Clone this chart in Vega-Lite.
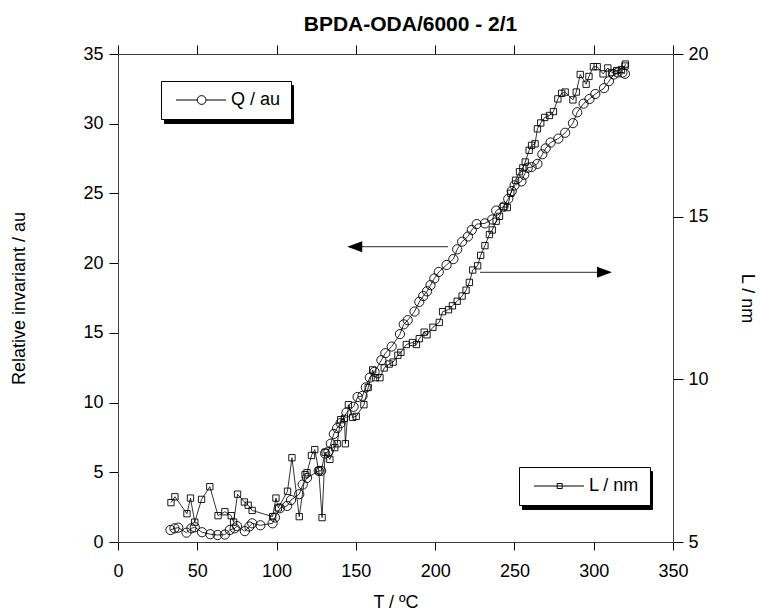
{
  "$schema": "https://vega.github.io/schema/vega-lite/v6.json",
  "width": 555,
  "height": 488,
  "autosize": "none",
  "padding": {"left": 118, "top": 54, "right": 89, "bottom": 68},
  "background": "white",
  "title": {"text": "BPDA-ODA/6000 - 2/1", "font": "Liberation Sans", "fontSize": 21, "fontWeight": "bold", "color": "black", "anchor": "middle", "frame": "group", "dx": 15, "offset": 10},
  "datasets": {
    "Q": [
      {"T": 33.1, "Q": 0.86}, {"T": 35.6, "Q": 0.98}, {"T": 38.0, "Q": 1.03}, {"T": 43.2, "Q": 0.67}, {"T": 46.3, "Q": 0.98},
      {"T": 48.4, "Q": 1.06}, {"T": 53.0, "Q": 0.70}, {"T": 58.2, "Q": 0.56}, {"T": 62.8, "Q": 0.50}, {"T": 67.4, "Q": 0.53},
      {"T": 70.5, "Q": 0.86}, {"T": 73.6, "Q": 0.98}, {"T": 75.1, "Q": 1.14}, {"T": 80.0, "Q": 0.78}, {"T": 82.8, "Q": 1.11},
      {"T": 84.6, "Q": 1.34}, {"T": 89.8, "Q": 1.20}, {"T": 97.5, "Q": 1.34}, {"T": 99.0, "Q": 1.76}, {"T": 102.1, "Q": 2.42},
      {"T": 106.7, "Q": 2.59}, {"T": 109.1, "Q": 3.01}, {"T": 114.3, "Q": 3.43}, {"T": 116.5, "Q": 4.12}, {"T": 119.2, "Q": 4.60},
      {"T": 126.6, "Q": 5.10}, {"T": 128.1, "Q": 5.10}, {"T": 130.6, "Q": 6.35}, {"T": 132.7, "Q": 6.49}, {"T": 134.2, "Q": 7.05},
      {"T": 136.1, "Q": 7.75}, {"T": 138.2, "Q": 8.17}, {"T": 140.4, "Q": 8.53}, {"T": 144.1, "Q": 9.28}, {"T": 148.6, "Q": 9.70},
      {"T": 151.1, "Q": 10.40}, {"T": 154.2, "Q": 10.48}, {"T": 156.3, "Q": 11.09}, {"T": 158.8, "Q": 11.79}, {"T": 161.8, "Q": 12.21},
      {"T": 166.1, "Q": 13.04}, {"T": 168.6, "Q": 13.54}, {"T": 172.6, "Q": 14.02}, {"T": 177.8, "Q": 14.91}, {"T": 180.2, "Q": 15.61},
      {"T": 182.7, "Q": 15.91}, {"T": 187.0, "Q": 16.53}, {"T": 190.0, "Q": 17.22}, {"T": 192.5, "Q": 17.64}, {"T": 194.9, "Q": 17.98},
      {"T": 197.1, "Q": 18.42}, {"T": 199.5, "Q": 18.90}, {"T": 202.3, "Q": 19.37}, {"T": 207.2, "Q": 19.87}, {"T": 211.5, "Q": 20.29},
      {"T": 213.9, "Q": 20.99}, {"T": 217.0, "Q": 21.54}, {"T": 220.7, "Q": 21.91}, {"T": 223.1, "Q": 22.38}, {"T": 226.2, "Q": 22.80},
      {"T": 231.4, "Q": 22.85}, {"T": 236.0, "Q": 23.13}, {"T": 238.5, "Q": 23.77}, {"T": 243.1, "Q": 24.05}, {"T": 246.1, "Q": 24.61},
      {"T": 248.3, "Q": 25.17}, {"T": 250.1, "Q": 25.58}, {"T": 254.4, "Q": 25.86}, {"T": 256.2, "Q": 26.34}, {"T": 258.4, "Q": 26.84},
      {"T": 260.8, "Q": 26.89}, {"T": 264.5, "Q": 27.12}, {"T": 267.6, "Q": 27.81}, {"T": 269.7, "Q": 28.23}, {"T": 272.8, "Q": 28.65},
      {"T": 277.7, "Q": 28.93}, {"T": 282.0, "Q": 29.35}, {"T": 286.9, "Q": 30.04}, {"T": 289.6, "Q": 30.82}, {"T": 293.6, "Q": 31.44},
      {"T": 297.3, "Q": 31.77}, {"T": 301.0, "Q": 32.13}, {"T": 306.5, "Q": 32.55}, {"T": 309.6, "Q": 33.05}, {"T": 312.6, "Q": 33.53},
      {"T": 315.1, "Q": 33.67}, {"T": 318.1, "Q": 33.67}, {"T": 319.7, "Q": 33.58}
    ],
    "L": [
      {"T": 33.4, "L": 6.21}, {"T": 35.9, "L": 6.39}, {"T": 43.5, "L": 5.87}, {"T": 45.7, "L": 6.35}, {"T": 48.4, "L": 5.61},
      {"T": 52.7, "L": 6.31}, {"T": 57.9, "L": 6.70}, {"T": 63.1, "L": 5.81}, {"T": 67.4, "L": 5.93}, {"T": 71.4, "L": 5.81},
      {"T": 72.9, "L": 5.61}, {"T": 75.4, "L": 6.47}, {"T": 79.7, "L": 6.23}, {"T": 82.1, "L": 6.13}, {"T": 84.6, "L": 5.97},
      {"T": 97.5, "L": 5.78}, {"T": 99.6, "L": 6.35}, {"T": 101.1, "L": 6.05}, {"T": 106.9, "L": 6.56}, {"T": 109.7, "L": 7.59},
      {"T": 114.3, "L": 5.78}, {"T": 118.0, "L": 7.07}, {"T": 119.2, "L": 7.13}, {"T": 122.0, "L": 7.66}, {"T": 124.1, "L": 7.84},
      {"T": 126.6, "L": 7.19}, {"T": 128.7, "L": 5.75}, {"T": 130.6, "L": 7.76}, {"T": 133.6, "L": 7.54}, {"T": 136.7, "L": 7.90},
      {"T": 138.2, "L": 8.02}, {"T": 140.4, "L": 8.76}, {"T": 142.8, "L": 8.80}, {"T": 143.4, "L": 8.02}, {"T": 145.3, "L": 9.22},
      {"T": 148.0, "L": 8.83}, {"T": 150.2, "L": 8.86}, {"T": 155.1, "L": 9.22}, {"T": 157.8, "L": 9.75}, {"T": 160.6, "L": 10.29},
      {"T": 162.4, "L": 10.05}, {"T": 165.2, "L": 10.05}, {"T": 167.9, "L": 10.35}, {"T": 171.0, "L": 10.47}, {"T": 173.5, "L": 10.53},
      {"T": 176.5, "L": 10.74}, {"T": 178.4, "L": 10.83}, {"T": 181.8, "L": 11.07}, {"T": 185.7, "L": 11.13}, {"T": 188.2, "L": 11.07},
      {"T": 190.0, "L": 11.25}, {"T": 193.1, "L": 11.45}, {"T": 194.9, "L": 11.37}, {"T": 198.6, "L": 11.60}, {"T": 202.6, "L": 11.75},
      {"T": 204.7, "L": 12.08}, {"T": 208.4, "L": 12.14}, {"T": 210.9, "L": 12.26}, {"T": 213.9, "L": 12.40}, {"T": 217.0, "L": 12.56},
      {"T": 219.5, "L": 12.74}, {"T": 221.6, "L": 12.98}, {"T": 223.7, "L": 13.36}, {"T": 226.8, "L": 13.49}, {"T": 228.7, "L": 13.81},
      {"T": 231.4, "L": 14.11}, {"T": 234.2, "L": 14.45}, {"T": 236.0, "L": 14.59}, {"T": 238.5, "L": 14.86}, {"T": 240.6, "L": 15.01},
      {"T": 243.1, "L": 15.31}, {"T": 245.5, "L": 15.28}, {"T": 247.7, "L": 15.72}, {"T": 250.7, "L": 16.12}, {"T": 253.2, "L": 16.38},
      {"T": 255.3, "L": 16.50}, {"T": 256.8, "L": 16.68}, {"T": 259.3, "L": 17.04}, {"T": 260.8, "L": 17.19}, {"T": 263.0, "L": 17.24},
      {"T": 264.5, "L": 17.70}, {"T": 266.6, "L": 17.88}, {"T": 269.1, "L": 18.05}, {"T": 272.1, "L": 18.11}, {"T": 274.6, "L": 18.23},
      {"T": 277.4, "L": 18.62}, {"T": 279.8, "L": 18.79}, {"T": 282.0, "L": 18.83}, {"T": 286.9, "L": 18.59}, {"T": 289.0, "L": 18.83},
      {"T": 291.5, "L": 19.37}, {"T": 295.2, "L": 19.07}, {"T": 297.0, "L": 19.31}, {"T": 299.8, "L": 19.61}, {"T": 302.2, "L": 19.61},
      {"T": 305.9, "L": 19.39}, {"T": 308.9, "L": 19.57}, {"T": 311.4, "L": 19.43}, {"T": 314.5, "L": 19.49}, {"T": 317.5, "L": 19.52},
      {"T": 319.7, "L": 19.63}, {"T": 320.0, "L": 19.69}
    ],
    "arrows": [
      {"id": "left", "T": 208.1, "Q": 21.18}, {"id": "left", "T": 150.0, "Q": 21.18},
      {"id": "right", "T": 228.3, "Q": 19.34}, {"id": "right", "T": 306.0, "Q": 19.34}
    ],
    "heads": [
      {"dir": "left", "T": 149.3, "Q": 21.18},
      {"dir": "right", "T": 306.8, "Q": 19.34}
    ]
  },
  "layer": [
    {
      "layer": [
        {
          "data": {"name": "Q"},
          "mark": {"type": "line", "strokeWidth": 0.8},
          "encoding": {
            "x": {"field": "T", "type": "quantitative", "title": "T / ºC", "scale": {"domain": [0, 350], "nice": false}, "axis": {"orient": "bottom", "values": [0, 50, 100, 150, 200, 250, 300, 350]}},
            "y": {"field": "Q", "type": "quantitative", "title": "Relative invariant / au", "scale": {"domain": [0, 35], "nice": false}, "axis": {"orient": "left", "values": [0, 5, 10, 15, 20, 25, 30, 35]}},
            "stroke": {
              "datum": "Q / au",
              "scale": {"range": ["black"]},
              "legend": {
                "orient": "none", "legendX": 43, "legendY": 27, "title": null,
                "symbolType": "M-1,0H4.3M6.5,0H11.5M4.3,0A1.1,1.1,0,1,1,6.5,0A1.1,1.1,0,1,1,4.3,0",
                "symbolSize": 64, "symbolStrokeColor": "black", "symbolStrokeWidth": 1, "symbolFillColor": "transparent",
                "labelOffset": 42, "labelFontSize": 18, "labelFont": "Liberation Sans", "labelColor": "black",
                "padding": 10, "strokeColor": "black", "fillColor": "white", "zindex": 2
              }
            }
          }
        },
        {
          "data": {"name": "Q"},
          "mark": {"type": "point", "shape": "circle", "size": 85, "filled": false, "stroke": "black", "strokeWidth": 0.9, "opacity": 1},
          "encoding": {
            "x": {"field": "T", "type": "quantitative", "title": "T / ºC"},
            "y": {"field": "Q", "type": "quantitative", "title": "Relative invariant / au"},
            "fill": {
              "datum": "Q shadow",
              "scale": {"range": ["transparent"]},
              "legend": {
                "orient": "none", "legendX": 46, "legendY": 31, "title": null,
                "labelExpr": "''",
                "symbolType": "M-1,0H11.5",
                "symbolSize": 64, "symbolStrokeColor": "black", "symbolStrokeWidth": 1, "symbolFillColor": "black",
                "labelOffset": 91, "labelFontSize": 18, "labelFont": "Liberation Sans", "labelColor": "black",
                "padding": 10, "strokeColor": "black", "fillColor": "black", "zindex": 1
              }
            }
          }
        },
        {
          "data": {"name": "arrows"},
          "mark": {"type": "line", "stroke": "#555555", "strokeWidth": 1.2},
          "encoding": {
            "x": {"field": "T", "type": "quantitative", "title": "T / ºC"},
            "y": {"field": "Q", "type": "quantitative", "title": "Relative invariant / au"},
            "detail": {"field": "id", "type": "nominal"}
          }
        },
        {
          "data": {"name": "heads"},
          "mark": {"type": "point", "filled": true, "fill": "black", "stroke": null, "size": 225, "opacity": 1},
          "encoding": {
            "x": {"field": "T", "type": "quantitative", "title": "T / ºC"},
            "y": {"field": "Q", "type": "quantitative", "title": "Relative invariant / au"},
            "shape": {"field": "dir", "type": "nominal", "scale": {"domain": ["left", "right"], "range": ["M-1,0L1,-0.73L1,0.73Z", "M1,0L-1,-0.73L-1,0.73Z"]}, "legend": null}
          }
        }
      ]
    },
    {
      "data": {"name": "L"},
      "encoding": {
        "x": {"field": "T", "type": "quantitative", "scale": {"domain": [0, 350], "nice": false}, "axis": {"orient": "top", "values": [0, 50, 100, 150, 200, 250, 300, 350], "labels": false, "title": null}},
        "y": {"field": "L", "type": "quantitative", "title": "L / nm", "scale": {"domain": [5, 20], "nice": false}, "axis": {"orient": "right", "values": [5, 10, 15, 20]}}
      },
      "layer": [
        {
          "mark": {"type": "line", "strokeWidth": 0.8},
          "encoding": {
            "stroke": {
              "datum": "L / nm",
              "scale": {"range": ["black"]},
              "legend": {
                "orient": "none", "legendX": 401, "legendY": 413, "title": null,
                "symbolType": "M-1,0H11.5M4.8,-0.625H6.05V0.625H4.8Z",
                "symbolSize": 64, "symbolStrokeColor": "black", "symbolStrokeWidth": 1, "symbolFillColor": "transparent",
                "labelOffset": 42, "labelFontSize": 18, "labelFont": "Liberation Sans", "labelColor": "black",
                "padding": 10, "strokeColor": "black", "fillColor": "white", "zindex": 2
              }
            }
          }
        },
        {
          "mark": {"type": "point", "shape": "square", "size": 40, "filled": false, "stroke": "black", "strokeWidth": 0.9, "opacity": 1},
          "encoding": {
            "fill": {
              "datum": "L shadow",
              "scale": {"range": ["transparent"]},
              "legend": {
                "orient": "none", "legendX": 404, "legendY": 417, "title": null,
                "labelExpr": "''",
                "symbolType": "M-1,0H11.5",
                "symbolSize": 64, "symbolStrokeColor": "black", "symbolStrokeWidth": 1, "symbolFillColor": "black",
                "labelOffset": 92, "labelFontSize": 18, "labelFont": "Liberation Sans", "labelColor": "black",
                "padding": 10, "strokeColor": "black", "fillColor": "black", "zindex": 1
              }
            }
          }
        }
      ]
    }
  ],
  "resolve": {"scale": {"y": "independent", "stroke": "independent", "fill": "independent"}, "axis": {"x": "independent"}},
  "config": {
    "view": {"stroke": null},
    "font": "Liberation Sans",
    "axis": {
      "grid": false, "domainColor": "#404040", "domainWidth": 1, "tickColor": "black", "tickWidth": 1,
      "labelFont": "Liberation Sans", "labelFontSize": 18, "labelColor": "black",
      "titleFont": "Liberation Sans", "titleFontSize": 18, "titleFontWeight": "normal", "titleColor": "black",
      "labelFlush": false, "labelOverlap": false, "labelBound": false
    },
    "axisBottom": {"tickSize": 8, "labelPadding": 12, "titlePadding": 13},
    "axisTop": {"tickSize": 9},
    "axisLeft": {"tickSize": 9, "labelPadding": 6, "titlePadding": 54},
    "axisRight": {"tickSize": 10, "labelPadding": 5, "titlePadding": 29}
  }
}
